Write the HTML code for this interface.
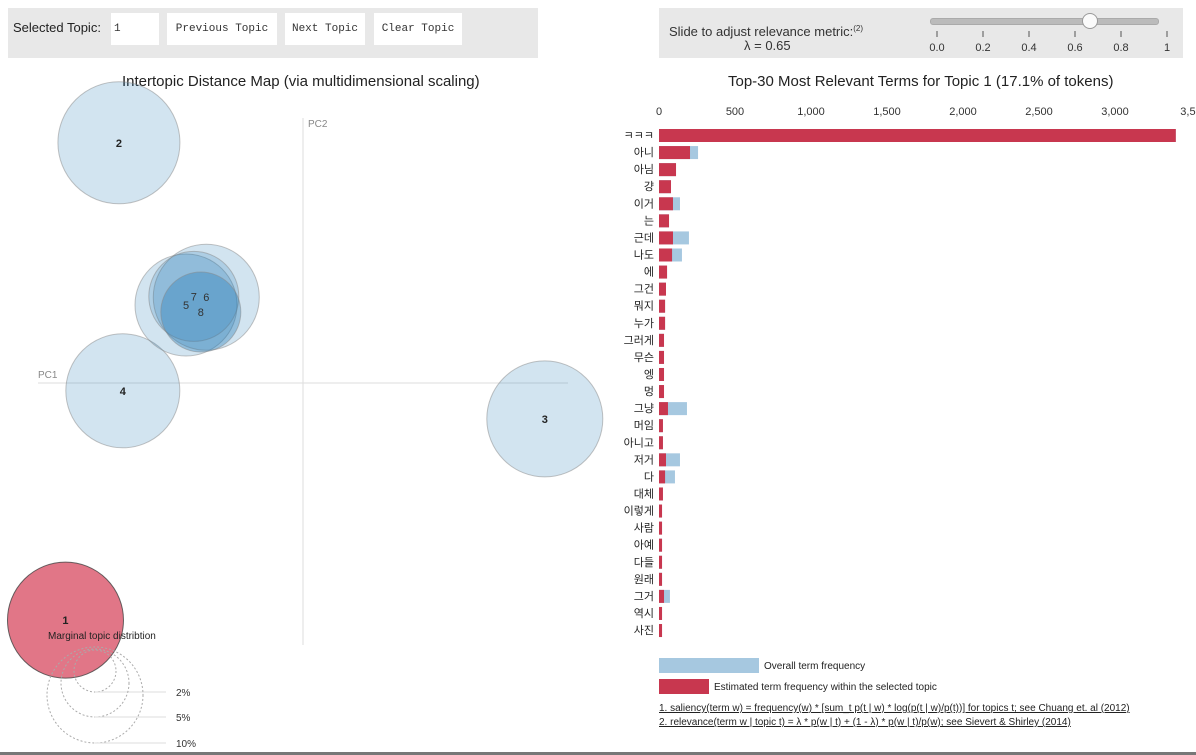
<!DOCTYPE html>
<html><head><meta charset="utf-8">
<style>
body{margin:0;width:1196px;height:755px;background:#fff;overflow:hidden;font-family:"Liberation Sans","Noto Sans CJK KR",sans-serif;position:relative}
.box{position:absolute;background:#e8e8e8}
.btn{position:absolute;background:#fff;font-family:"Liberation Mono",monospace;font-size:11px;color:#333;text-align:center;line-height:32px;height:32px;top:13px}
.abs{position:absolute;white-space:nowrap}
</style></head><body>
<div class="box" style="left:8px;top:8px;width:530px;height:50px"></div>
<div class="abs" style="left:13px;top:20px;font-size:13px;color:#222">Selected Topic:</div>
<div class="btn" style="left:111px;width:48px;text-align:left;padding-left:3px;box-sizing:border-box">1</div>
<div class="btn" style="left:167px;width:110px">Previous Topic</div>
<div class="btn" style="left:285px;width:80px">Next Topic</div>
<div class="btn" style="left:374px;width:88px">Clear Topic</div>

<div class="box" style="left:659px;top:8px;width:524px;height:50px"></div>
<div class="abs" style="left:669px;top:24px;font-size:13px;color:#333">Slide to adjust relevance metric:<span style="font-size:8px;vertical-align:top">(2)</span></div>
<div class="abs" style="left:744px;top:38px;font-size:13px;color:#333">λ = 0.65</div>
<div class="abs" style="left:930px;top:18px;width:227px;height:5px;background:#bbb;border-radius:3px;border:1px solid #aaa"></div>
<div class="abs" style="left:1082px;top:13px;width:14px;height:14px;background:#fafafa;border:1px solid #999;border-radius:50%"></div>

<div class="abs" style="left:122px;top:73px;font-size:15px;color:#222">Intertopic Distance Map (via multidimensional scaling)</div>
<div class="abs" style="left:728px;top:73px;font-size:15px;color:#222">Top-30 Most Relevant Terms for Topic 1 (17.1% of tokens)</div>

<svg id="s" width="1196" height="755" style="position:absolute;left:0;top:0" xmlns="http://www.w3.org/2000/svg"></svg>
<div class="abs" style="left:0;top:752px;width:1196px;height:3px;background:#777"></div>
<script>
const terms=["ㅋㅋㅋ","아니","아님","걍","이거","는","근데","나도","에","그건","뭐지","누가","그러게","무슨","엥","멍","그냥","머임","아니고","저거","다","대체","이렇게","사람","아예","다들","원래","그거","역시","사진"];
const overall=[3400,257,112,79,138,66,197,151,53,46,40,40,33,33,33,33,184,26,26,138,105,26,20,20,20,20,20,72,20,20];
const estimated=[3400,204,112,79,92,66,92,86,53,46,40,40,33,33,33,33,59,26,26,46,40,26,20,20,20,20,20,33,20,20];
const xTicks=[0,500,1000,1500,2000,2500,3000,3500];
const xTickLabels=["0","500","1,000","1,500","2,000","2,500","3,000","3,50"];
const sliderTicks=["0.0","0.2","0.4","0.6","0.8","1"];
const topicIds=["1","2","3","4","5","6","7","8"];
const topicPC1=[-0.3045,-0.236,0.310,-0.231,-0.15,-0.124,-0.14,-0.131];
const topicPC2=[-0.304,0.308,-0.046,-0.010,0.10,0.110,0.111,0.091];
const topicR=[58,61,58,57,51,53,45,40];
const S=document.getElementById('s');
const NS="http://www.w3.org/2000/svg";
function el(t,a,txt){const e=document.createElementNS(NS,t);for(const k in a)e.setAttribute(k,a[k]);if(txt!=null)e.textContent=txt;S.appendChild(e);return e;}
const x0=659,xs=532/3500;const X=v=>x0+v*xs;
const Y=i=>129+i*17.07;
xTicks.forEach((t,i)=>{const e=el('text',{x:X(t),y:115,'text-anchor':'middle','font-size':11,fill:'#333','font-family':'Liberation Sans'},xTickLabels[i]);

});
terms.forEach((t,i)=>{
 const b=el('rect',{x:X(0),y:Y(i),width:overall[i]*xs,height:13,fill:'#a6c8e0'});
 
 
 const r=el('rect',{x:X(0),y:Y(i),width:estimated[i]*xs,height:13,fill:'#c8374f'});
 
 
 const l=el('text',{x:654,y:Y(i)+10,'text-anchor':'end','font-size':11,fill:'#222','font-family':'Liberation Sans, Noto Sans CJK KR, sans-serif'},t);
 
 
});
sliderTicks.forEach((t,i)=>{const x=937+i*46;
 const k=el('line',{x1:x,x2:x,y1:31,y2:37,stroke:'#555'});
 
 
 const e=el('text',{x:x,y:51,'text-anchor':'middle','font-size':11,fill:'#333','font-family':'Liberation Sans'},t);
 
 });
const cx=303,cy=383,sc=780;
const PX=v=>cx+v*sc,PY=v=>cy-v*sc;
let a=el('line',{x1:303,x2:303,y1:118,y2:645,stroke:'#ddd'});
a=el('line',{x1:38,x2:568,y1:383,y2:383,stroke:'#ddd'});
a=el('text',{x:308,y:127,'font-size':10,fill:'#888'},'PC2');
a=el('text',{x:38,y:378,'font-size':10,fill:'#888'},'PC1');
const order=[1,2,3,4,5,6,7,0];
order.forEach(i=>{const sel=i===0;
 const c=el('circle',{cx:PX(topicPC1[i]),cy:PY(topicPC2[i]),r:topicR[i],fill:sel?'#d7485f':'#1f77b4','fill-opacity':sel?0.75:(i===7?0.35:0.2),stroke:sel?'#444':'#888','stroke-opacity':sel?0.8:0.5});
 
 });
order.forEach(i=>{const small=i>=4;const t=el('text',{x:PX(topicPC1[i]),y:PY(topicPC2[i])+4,'text-anchor':'middle','font-size':11,'font-weight':small?'normal':'bold',fill:small?'#333':'#222'},topicIds[i]);
 
 });
a=el('text',{x:48,y:639,'font-size':10,fill:'#222'},'Marginal topic distribtion');
[["2%",21,692],["5%",34,717],["10%",48,743]].forEach(d=>{
 const c=el('circle',{cx:95,cy:d[2]-d[1],r:d[1],fill:'none',stroke:'#aaa','stroke-dasharray':'2 2'});
 
 
 const l=el('line',{x1:95,x2:166,y1:d[2],y2:d[2],stroke:'#ddd'});
 
 
 const t=el('text',{x:176,y:d[2]+4,'font-size':10,fill:'#333'},d[0]);
 
 });
a=el('rect',{x:659,y:658,width:100,height:15,fill:'#a6c8e0'});
a=el('text',{x:764,y:669,'font-size':10,fill:'#222'},'Overall term frequency');
a=el('rect',{x:659,y:679,width:50,height:15,fill:'#c8374f'});
a=el('text',{x:714,y:690,'font-size':10,fill:'#222'},'Estimated term frequency within the selected topic');
a=el('text',{x:659,y:711,'font-size':10,fill:'#222','text-decoration':'underline'},'1. saliency(term w) = frequency(w) * [sum_t p(t | w) * log(p(t | w)/p(t))] for topics t; see Chuang et. al (2012)');
a=el('text',{x:659,y:725,'font-size':10,fill:'#222','text-decoration':'underline'},'2. relevance(term w | topic t) = λ * p(w | t) + (1 - λ) * p(w | t)/p(w); see Sievert & Shirley (2014)');
</script>
</body></html>
